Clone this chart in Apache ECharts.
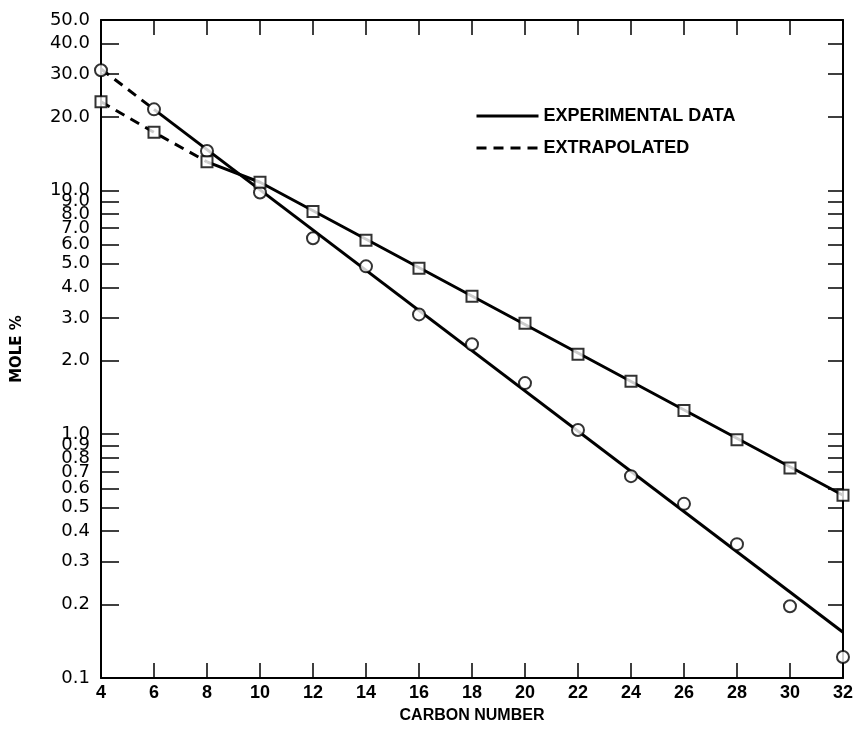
<!DOCTYPE html>
<html>
<head>
<meta charset="utf-8">
<script src="https://cdn.jsdelivr.net/npm/echarts@6/dist/echarts.min.js"></script>
<style>
  html, body { margin: 0; padding: 0; background: #fff; }
  #chart { width: 856px; height: 735px; }
</style>
</head>
<body>
<div id="chart"></div>
<script>
// carbon numbers
const carbon = [4, 6, 8, 10, 12, 14, 16, 18, 20, 22, 24, 26, 28, 30, 32];
// circle points (mole %)
const circleVals = [31.1, 21.5, 14.5, 9.8, 6.36, 4.88, 3.1, 2.34, 1.62, 1.04, 0.673, 0.518, 0.354, 0.197, 0.122];
// square points (mole %)
const squareVals = [23.1, 17.3, 13.1, 10.8, 8.2, 6.24, 4.79, 3.68, 2.85, 2.13, 1.65, 1.25, 0.95, 0.726, 0.562];

// fitted lines
const circleSolid = [[6, 21.5], [32, 0.154]];
const circleDash = [[4, 31.5], [6, 21.5]];
const squareSolid = [[8, 13.1], [10, 10.8], [32, 0.562]];
const squareDash = [[4, 23.1], [6, 17.3], [8, 13.1]];

// tick values
const yTicks = [0.1, 0.2, 0.3, 0.4, 0.5, 0.6, 0.7, 0.8, 0.9, 1, 2, 3, 4, 5, 6, 7, 8, 9, 10, 20, 30, 40, 50];

const FONT = '"DejaVu Sans", sans-serif';
const NARROW = '"Liberation Sans", sans-serif';
const axisLine = { show: true, onZero: false, lineStyle: { color: '#000', width: 2 } };

const chart = echarts.init(document.getElementById('chart'));
chart.setOption({
  animation: false,
  backgroundColor: '#fff',
  grid: { left: 101, right: 11, top: 20, bottom: 57 },
  legend: {
    data: ['EXPERIMENTAL DATA', 'EXTRAPOLATED'],
    orient: 'vertical',
    left: 470, top: 102,
    itemWidth: 62, itemHeight: 16, itemGap: 14,
    itemStyle: { opacity: 0 },
    lineStyle: { width: 3, color: '#000' },
    textStyle: { fontSize: 18, fontFamily: NARROW, fontWeight: 'bold', color: '#000' }
  },
  xAxis: [
    {
      type: 'value', min: 4, max: 32, interval: 2,
      name: 'CARBON NUMBER', nameLocation: 'middle', nameGap: 30,
      nameTextStyle: { fontSize: 16, fontFamily: NARROW, fontWeight: 'bold', color: '#000' },
      axisLine,
      axisTick: { inside: true, length: 15, lineStyle: { color: '#000', width: 1.5 } },
      axisLabel: { fontSize: 18, fontFamily: NARROW, fontWeight: 'bold', color: '#000', margin: 6 },
      splitLine: { show: false }
    },
    {
      type: 'value', min: 4, max: 32, interval: 2, position: 'top',
      axisLine,
      axisTick: { inside: true, length: 15, lineStyle: { color: '#000', width: 1.5 } },
      axisLabel: { show: false },
      splitLine: { show: false }
    }
  ],
  yAxis: [
    {
      type: 'log', min: 0.1, max: 50,
      name: 'MOLE %', nameLocation: 'middle', nameGap: 76, nameRotate: 90,
      nameTextStyle: { fontSize: 15, fontFamily: FONT, fontWeight: 'bold', color: '#000' },
      axisLine,
      axisTick: { inside: true, length: 18, customValues: yTicks, lineStyle: { color: '#000', width: 1.5 } },
      axisLabel: {
        customValues: yTicks, fontSize: 18, fontFamily: FONT, color: '#000', margin: 11,
        formatter: v => Number(v).toFixed(1)
      },
      splitLine: { show: false }
    },
    {
      type: 'log', min: 0.1, max: 50, position: 'right',
      axisLine,
      axisTick: { inside: true, length: 15, customValues: yTicks, lineStyle: { color: '#000', width: 1.5 } },
      axisLabel: { show: false },
      splitLine: { show: false }
    }
  ],
  series: [
    { name: 'EXPERIMENTAL DATA', type: 'line', data: circleSolid, symbol: 'none',
      lineStyle: { color: '#000', width: 3 }, itemStyle: { color: '#000' } },
    { name: 'EXPERIMENTAL DATA', type: 'line', data: squareSolid, symbol: 'none',
      lineStyle: { color: '#000', width: 3 }, itemStyle: { color: '#000' } },
    { name: 'EXTRAPOLATED', type: 'line', data: circleDash, symbol: 'none',
      lineStyle: { color: '#000', width: 3, type: [10, 7] }, itemStyle: { color: '#000' } },
    { name: 'EXTRAPOLATED', type: 'line', data: squareDash, symbol: 'none',
      lineStyle: { color: '#000', width: 3, type: [10, 7] }, itemStyle: { color: '#000' } },
    { name: 'circles', type: 'scatter', data: carbon.map((c, i) => [c, circleVals[i]]),
      symbol: 'circle', symbolSize: 12, clip: false, z: 5,
      itemStyle: { color: '#fff', borderColor: '#000', borderWidth: 2 } },
    { name: 'squares', type: 'scatter', data: carbon.map((c, i) => [c, squareVals[i]]),
      symbol: 'rect', symbolSize: 11, clip: false, z: 5,
      itemStyle: { color: '#fff', borderColor: '#000', borderWidth: 2 } }
  ]
});
</script>
</body>
</html>
